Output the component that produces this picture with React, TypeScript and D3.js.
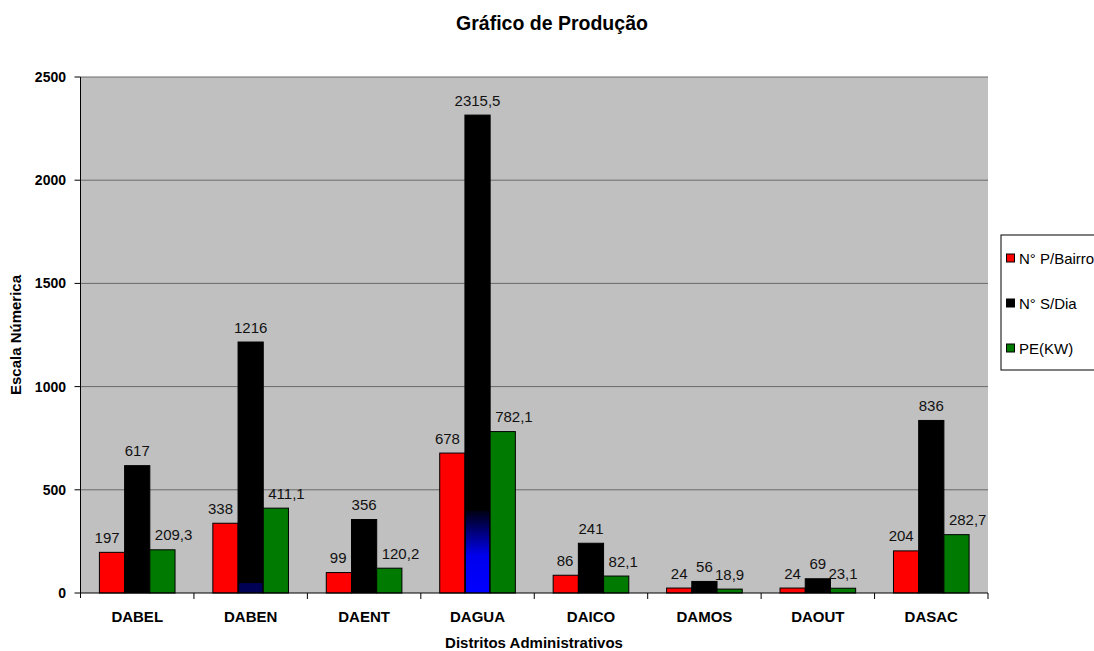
import React from "react";
import * as d3 from "d3";

const title = "Gráfico de Produção";
const categories = ["DABEL", "DABEN", "DAENT", "DAGUA", "DAICO", "DAMOS", "DAOUT", "DASAC"];
const seriesNames = ["N° P/Bairro", "N° S/Dia", "PE(KW)"];
const seriesColors = ["#FF0000", "#000000", "#007A00"];
const pBairro = [197, 338, 99, 678, 86, 24, 24, 204];
const sDia = [617, 1216, 356, 2315.5, 241, 56, 69, 836];
const peKW = [209.3, 411.1, 120.2, 782.1, 82.1, 18.9, 23.1, 282.7];
const yTicks = [0, 500, 1000, 1500, 2000, 2500];
// rendering artefact of the original: blue tint at the base of some black bars
const blueTintCats = ["DABEN", "DAGUA"];
const blueTintTop = [48, 400];

const fmt = (v: number) => String(v).replace(".", ",");
const FONT = "'Liberation Sans', Arial, sans-serif";

let ctx: CanvasRenderingContext2D | null = null;
function textWidth(s: string, size: number, bold = false) {
  if (!ctx && typeof document !== "undefined") ctx = document.createElement("canvas").getContext("2d");
  if (!ctx) return s.length * size * 0.55;
  ctx.font = `${bold ? "bold " : ""}${size}px ${FONT}`;
  return ctx.measureText(s).width;
}

export default function App() {
  const W = 1094, H = 651;
  const left = 80.5, right = 988, top = 77, bottom = 593;
  const x = d3.scaleBand<string>().domain(categories).range([left, right]).paddingInner(0).paddingOuter(0);
  const cw = x.bandwidth();
  const barW = cw / 4.5;
  const y = d3.scaleLinear().domain([0, 2500]).range([bottom, top]);
  const series = [pBairro, sDia, peKW];
  const labelSize = 15;
  const labelGap = 9.5;
  const margin = 5;

  const barX = (c: string, k: number) => (x(c) as number) + barW * 0.75 + k * barW;

  const labels = categories.flatMap((c, i) =>
    series.map((s, k) => {
      const v = s[i];
      const txt = fmt(v);
      const w = textWidth(txt, labelSize);
      let cx = barX(c, k) + barW / 2;
      const baseline = y(v) - labelGap;
      const blackTop = y(sDia[i]);
      if (k !== 1 && baseline > blackTop) {
        if (k === 0) {
          const limit = barX(c, 1) - margin;
          if (cx + w / 2 > limit) cx = limit - w / 2;
        } else {
          const limit = barX(c, 2) + margin;
          if (cx - w / 2 < limit) cx = limit + w / 2;
        }
      }
      return { key: c + k, cx, baseline, txt };
    })
  );

  return (
    <svg width={W} height={H} style={{ position: "absolute", left: 0, top: 0, background: "#fff" }} fontFamily={FONT}>
      <defs>
        <linearGradient id="blueA" x1="0" y1="0" x2="0" y2="1">
          <stop offset="0" stopColor="#000010" />
          <stop offset="0.2" stopColor="#000060" />
          <stop offset="0.55" stopColor="#0000ee" />
          <stop offset="1" stopColor="#0000ff" />
        </linearGradient>
      </defs>
      <text x={552} y={30} textAnchor="middle" fontWeight="bold" fontSize={19.5}>{title}</text>
      <rect x={left} y={top} width={right - left} height={bottom - top} fill="#C0C0C0" />
      {yTicks.filter(t => t > 0).map(t => (
        <line key={t} x1={left} x2={right} y1={y(t)} y2={y(t)} stroke="#6a6a6a" strokeWidth={1} />
      ))}
      {categories.map((c, i) => (
        <g key={c}>
          {series.map((s, k) => (
            <rect key={k} x={barX(c, k)} y={y(s[i])} width={barW} height={bottom - y(s[i])}
              fill={seriesColors[k]} stroke="#000" strokeWidth={1} />
          ))}
        </g>
      ))}
      {blueTintCats.map((c, j) => {
        const bx = barX(c, 1);
        return (
          <rect key={c} x={bx + 1} y={y(blueTintTop[j])} width={barW - 2} height={bottom - y(blueTintTop[j]) - 0.5}
            fill={j === 0 ? "#000055" : "url(#blueA)"} />
        );
      })}
      {labels.map(l => (
        <text key={l.key} x={l.cx} y={l.baseline} textAnchor="middle" fontSize={labelSize} fill="#111">{l.txt}</text>
      ))}
      <line x1={left} x2={left} y1={top} y2={bottom + 5} stroke="#000" />
      <line x1={left} x2={right} y1={bottom} y2={bottom} stroke="#000" />
      {yTicks.map(t => (
        <g key={t}>
          <line x1={left - 6} x2={left} y1={y(t)} y2={y(t)} stroke="#000" />
          <text x={66} y={y(t) + 5} textAnchor="end" fontWeight="bold" fontSize={14}>{t}</text>
        </g>
      ))}
      {categories.map(c => (
        <g key={c + "t"}>
          <line x1={(x(c) as number) + cw} x2={(x(c) as number) + cw} y1={bottom} y2={bottom + 6} stroke="#000" />
          <text x={(x(c) as number) + cw / 2} y={622} textAnchor="middle" fontWeight="bold" fontSize={15}>{c}</text>
        </g>
      ))}
      <text x={534} y={648} textAnchor="middle" fontWeight="bold" fontSize={15}>Distritos Administrativos</text>
      <text transform={`translate(21,${335}) rotate(-90)`} textAnchor="middle" fontWeight="bold" fontSize={15}>Escala Númerica</text>
      <rect x={1001} y={235} width={110} height={135} fill="#fff" stroke="#000" />
      {seriesNames.map((n, k) => (
        <g key={n}>
          <rect x={1006.5} y={258 + k * 45 - 4} width={8} height={8} fill={seriesColors[k]} stroke="#000" />
          <text x={1019} y={258 + k * 45 + 5.5} fontSize={15}>{n}</text>
        </g>
      ))}
    </svg>
  );
}
